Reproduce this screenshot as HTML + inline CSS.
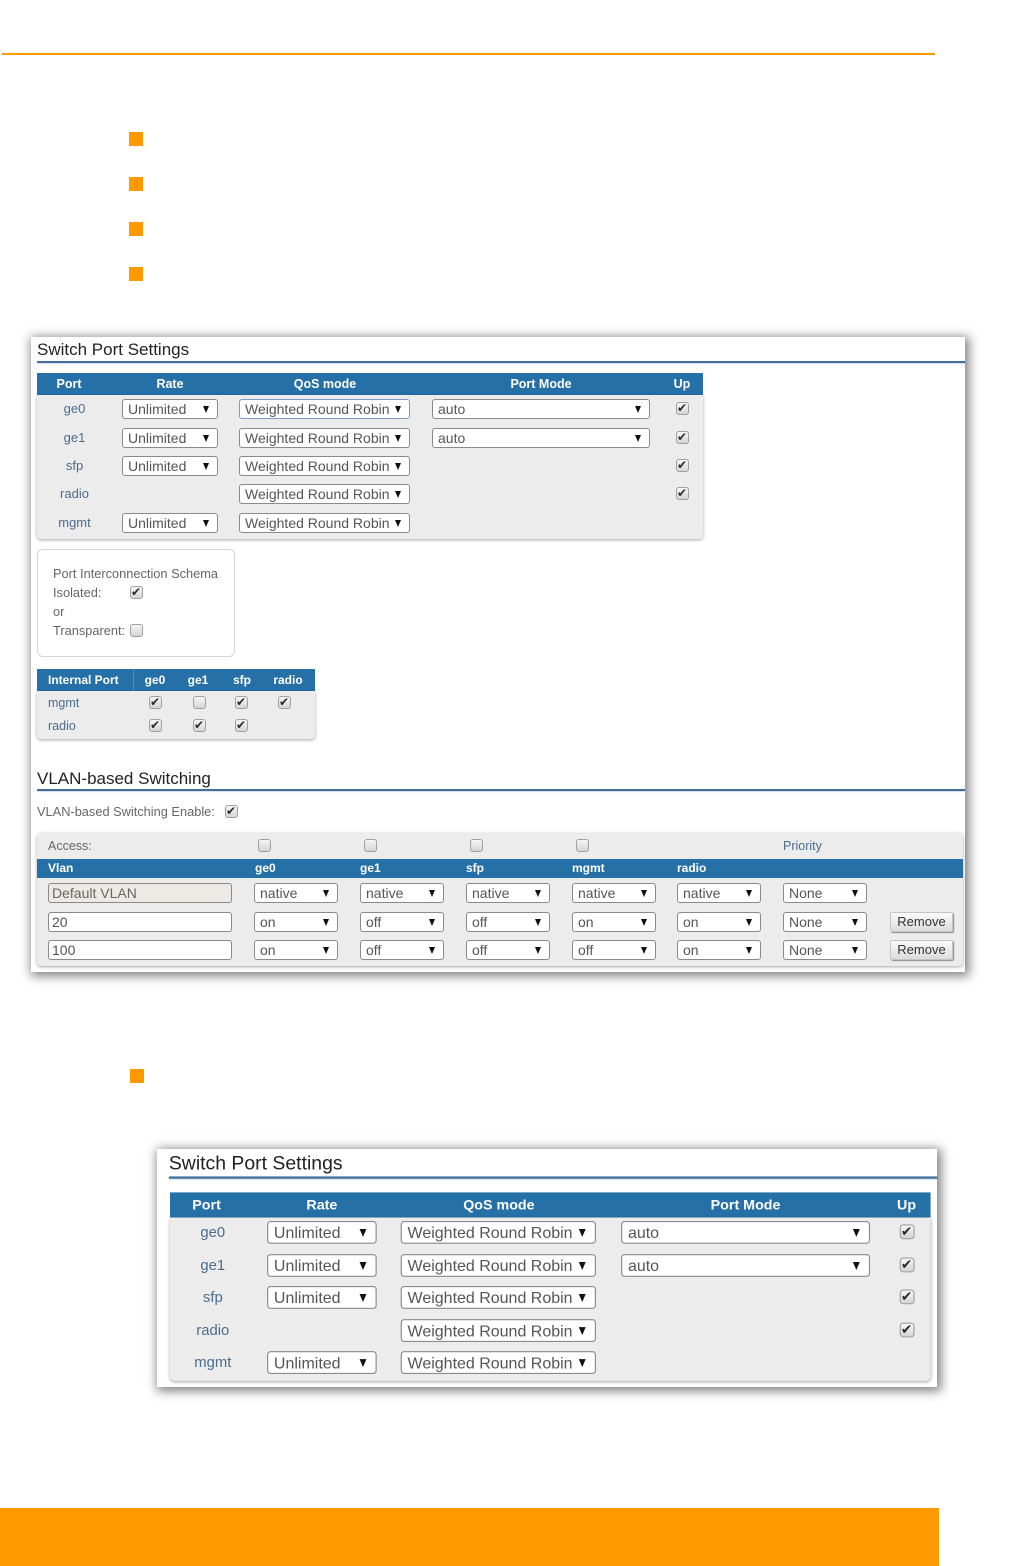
<!DOCTYPE html>
<html><head><meta charset="utf-8">
<style>
html,body{margin:0;padding:0;background:#fff;}
body{width:1030px;height:1566px;position:relative;overflow:hidden;font-family:"Liberation Sans",Arial,sans-serif;}
div,span,i{box-sizing:border-box;}
.a{position:absolute;}
.bul{position:absolute;width:14px;height:14px;background:#ff9900;}
.panel{position:absolute;background:#fff;box-shadow:2px 2px 10px 2px rgba(0,0,0,0.5);}
.ttl{position:absolute;font-size:17px;line-height:21px;color:#222;white-space:nowrap;}
.bl{position:absolute;height:2px;background:#41709c;box-shadow:0 1px 1px rgba(120,150,180,0.35);}
.hd{position:absolute;background:#2670a8;}
.bd{position:absolute;background:#ececec;border-radius:0 0 4px 4px;box-shadow:0 1px 3px rgba(0,0,0,0.35);}
.hl{position:absolute;color:#fff;font-weight:bold;font-size:12.5px;line-height:22px;text-align:center;white-space:nowrap;}
.lb{position:absolute;color:#4b6d8f;font-size:13px;line-height:20px;text-align:center;white-space:nowrap;}
.sel{position:absolute;height:20px;border:1px solid #8a8a8a;border-radius:3px;background:#fff;font-size:14px;color:#555;padding-left:5px;line-height:18px;white-space:nowrap;overflow:hidden;}
.sel i{position:absolute;right:8px;top:6px;width:0;height:0;border-left:3px solid transparent;border-right:3px solid transparent;border-top:7px solid #111;}
.inp{position:absolute;height:20px;border:1px solid #8a8a8a;border-radius:3px;background:#fff;font-size:14px;color:#555;padding-left:3px;line-height:18px;white-space:nowrap;}
.cb{position:absolute;width:13px;height:13px;margin-top:-1px;border:1px solid #a0a0a0;border-radius:3px;background:linear-gradient(#f6f6f6,#d4d4d4);}
.cb.on::after{content:"\2714";position:absolute;left:0px;top:-2px;font-size:12px;line-height:15px;color:#2a2a2a;font-family:"DejaVu Sans",sans-serif;}
.tx{position:absolute;font-size:12.8px;color:#666;white-space:nowrap;line-height:16px;}
.btn{position:absolute;width:63px;height:20px;border:1px solid #c4c4c4;border-radius:2px;background:linear-gradient(#fbfbfb,#dcdcdc);box-shadow:1px 1px 1px #8a8a8a;font-size:13px;color:#333;text-align:center;line-height:18px;}
.vh{position:absolute;color:#fff;font-weight:bold;font-size:12px;line-height:19px;white-space:nowrap;}
</style></head>
<body>

<!-- top orange line -->
<div class="a" style="left:2px;top:53px;width:933px;height:2px;background:#ff9900;"></div>

<!-- bullets -->
<div class="bul" style="left:129px;top:132px;"></div>
<div class="bul" style="left:129px;top:177px;"></div>
<div class="bul" style="left:129px;top:222px;"></div>
<div class="bul" style="left:129px;top:267px;"></div>
<div class="bul" style="left:130px;top:1069px;"></div>

<!-- ================= PANEL 1 ================= -->
<div class="panel" style="left:31px;top:337px;width:934px;height:635px;"></div>
<div class="ttl" style="left:37px;top:339px;">Switch Port Settings</div>
<div class="bl" style="left:37px;top:361px;width:928px;"></div>

<div class="a" style="left:37px;top:373px;width:666px;height:166px;">
  <div class="hd" style="left:0;top:0;width:666px;height:22px;"></div>
  <div class="bd" style="left:0;top:22px;width:666px;height:144px;"></div>
  <div class="hl" style="left:-18px;top:0;width:100px;">Port</div>
  <div class="hl" style="left:83px;top:0;width:100px;">Rate</div>
  <div class="hl" style="left:238px;top:0;width:100px;">QoS mode</div>
  <div class="hl" style="left:454px;top:0;width:100px;">Port Mode</div>
  <div class="hl" style="left:625px;top:0;width:40px;">Up</div>

  <div class="lb" style="left:0;top:26px;width:75px;">ge0</div>
  <div class="sel" style="left:85px;top:26px;width:96px;">Unlimited<i></i></div>
  <div class="sel" style="left:202px;top:26px;width:171px;border-color:#7d9bc4;">Weighted Round Robin<i></i></div>
  <div class="sel" style="left:395px;top:26px;width:218px;">auto<i></i></div>
  <div class="cb on" style="left:639px;top:30px;"></div>

  <div class="lb" style="left:0;top:55px;width:75px;">ge1</div>
  <div class="sel" style="left:85px;top:55px;width:96px;">Unlimited<i></i></div>
  <div class="sel" style="left:202px;top:55px;width:171px;">Weighted Round Robin<i></i></div>
  <div class="sel" style="left:395px;top:55px;width:218px;">auto<i></i></div>
  <div class="cb on" style="left:639px;top:59px;"></div>

  <div class="lb" style="left:0;top:83px;width:75px;">sfp</div>
  <div class="sel" style="left:85px;top:83px;width:96px;">Unlimited<i></i></div>
  <div class="sel" style="left:202px;top:83px;width:171px;">Weighted Round Robin<i></i></div>
  <div class="cb on" style="left:639px;top:87px;"></div>

  <div class="lb" style="left:0;top:111px;width:75px;">radio</div>
  <div class="sel" style="left:202px;top:111px;width:171px;">Weighted Round Robin<i></i></div>
  <div class="cb on" style="left:639px;top:115px;"></div>

  <div class="lb" style="left:0;top:140px;width:75px;">mgmt</div>
  <div class="sel" style="left:85px;top:140px;width:96px;">Unlimited<i></i></div>
  <div class="sel" style="left:202px;top:140px;width:171px;">Weighted Round Robin<i></i></div>
</div>

<!-- Port interconnection box -->
<div class="a" style="left:37px;top:549px;width:198px;height:108px;border:1px solid #d6d6d6;border-radius:6px;background:#fff;"></div>
<div class="tx" style="left:53px;top:566px;">Port Interconnection Schema</div>
<div class="tx" style="left:53px;top:585px;">Isolated:</div>
<div class="cb on" style="left:130px;top:587px;"></div>
<div class="tx" style="left:53px;top:604px;">or</div>
<div class="tx" style="left:53px;top:623px;">Transparent:</div>
<div class="cb" style="left:130px;top:625px;"></div>

<!-- Internal port table -->
<div class="a" style="left:37px;top:669px;width:278px;height:70px;">
  <div class="hd" style="left:0;top:0;width:278px;height:22px;"></div>
  <div class="a" style="left:96px;top:0;width:1px;height:22px;background:#4f8cc0;"></div>
  <div class="bd" style="left:0;top:22px;width:278px;height:48px;"></div>
  <div class="hl" style="left:11px;top:0;font-size:12px;">Internal Port</div>
  <div class="hl" style="left:98px;top:0;width:40px;font-size:12px;">ge0</div>
  <div class="hl" style="left:141px;top:0;width:40px;font-size:12px;">ge1</div>
  <div class="hl" style="left:185px;top:0;width:40px;font-size:12px;">sfp</div>
  <div class="hl" style="left:231px;top:0;width:40px;font-size:12px;">radio</div>
  <div class="lb" style="left:11px;top:24px;font-size:12.5px;text-align:left;">mgmt</div>
  <div class="lb" style="left:11px;top:47px;font-size:12.5px;text-align:left;">radio</div>
  <div class="cb on" style="left:112px;top:28px;"></div>
  <div class="cb" style="left:156px;top:28px;"></div>
  <div class="cb on" style="left:198px;top:28px;"></div>
  <div class="cb on" style="left:241px;top:28px;"></div>
  <div class="cb on" style="left:112px;top:51px;"></div>
  <div class="cb on" style="left:156px;top:51px;"></div>
  <div class="cb on" style="left:198px;top:51px;"></div>
</div>

<!-- VLAN based switching -->
<div class="ttl" style="left:37px;top:768px;">VLAN-based Switching</div>
<div class="bl" style="left:37px;top:789px;width:928px;"></div>
<div class="tx" style="left:37px;top:804px;">VLAN-based Switching Enable:</div>
<div class="cb on" style="left:225px;top:806px;"></div>

<div class="a" style="left:37px;top:833px;width:926px;height:133px;background:#ececec;border-radius:4px;box-shadow:0 1px 3px rgba(0,0,0,0.35);"></div>
<div class="tx" style="left:48px;top:838px;font-size:12.5px;">Access:</div>
<div class="cb" style="left:258px;top:840px;"></div>
<div class="cb" style="left:364px;top:840px;"></div>
<div class="cb" style="left:470px;top:840px;"></div>
<div class="cb" style="left:576px;top:840px;"></div>
<div class="tx" style="left:783px;top:838px;font-size:12.5px;color:#4b6d8f;">Priority</div>

<div class="hd" style="left:37px;top:859px;width:926px;height:19px;"></div>
<div class="vh" style="left:48px;top:859px;">Vlan</div>
<div class="vh" style="left:255px;top:859px;">ge0</div>
<div class="vh" style="left:360px;top:859px;">ge1</div>
<div class="vh" style="left:466px;top:859px;">sfp</div>
<div class="vh" style="left:572px;top:859px;">mgmt</div>
<div class="vh" style="left:677px;top:859px;">radio</div>

<!-- row 1 -->
<div class="inp" style="left:48px;top:883px;width:184px;background:#ebeae4;color:#666;">Default VLAN</div>
<div class="sel" style="left:254px;top:883px;width:84px;">native<i></i></div>
<div class="sel" style="left:360px;top:883px;width:84px;">native<i></i></div>
<div class="sel" style="left:466px;top:883px;width:84px;">native<i></i></div>
<div class="sel" style="left:572px;top:883px;width:84px;">native<i></i></div>
<div class="sel" style="left:677px;top:883px;width:84px;">native<i></i></div>
<div class="sel" style="left:783px;top:883px;width:84px;">None<i></i></div>
<!-- row 2 -->
<div class="inp" style="left:48px;top:912px;width:184px;">20</div>
<div class="sel" style="left:254px;top:912px;width:84px;">on<i></i></div>
<div class="sel" style="left:360px;top:912px;width:84px;">off<i></i></div>
<div class="sel" style="left:466px;top:912px;width:84px;">off<i></i></div>
<div class="sel" style="left:572px;top:912px;width:84px;">on<i></i></div>
<div class="sel" style="left:677px;top:912px;width:84px;">on<i></i></div>
<div class="sel" style="left:783px;top:912px;width:84px;">None<i></i></div>
<div class="btn" style="left:890px;top:912px;">Remove</div>
<!-- row 3 -->
<div class="inp" style="left:48px;top:940px;width:184px;">100</div>
<div class="sel" style="left:254px;top:940px;width:84px;">on<i></i></div>
<div class="sel" style="left:360px;top:940px;width:84px;">off<i></i></div>
<div class="sel" style="left:466px;top:940px;width:84px;">off<i></i></div>
<div class="sel" style="left:572px;top:940px;width:84px;">off<i></i></div>
<div class="sel" style="left:677px;top:940px;width:84px;">on<i></i></div>
<div class="sel" style="left:783px;top:940px;width:84px;">None<i></i></div>
<div class="btn" style="left:890px;top:940px;">Remove</div>

<!-- ================= PANEL 2 ================= -->
<div class="panel" style="left:157px;top:1149px;width:780px;height:238px;"></div>
<div class="a" style="left:170px;top:1149px;width:672px;height:205px;transform:scale(1.142);transform-origin:0 0;">
  <div class="ttl" style="left:-1px;top:2px;">Switch Port Settings</div>
  <div class="bl" style="left:-1px;top:24px;width:673px;"></div>
  <div class="a" style="left:0;top:38px;width:666px;height:166px;">
    <div class="hd" style="left:0;top:0;width:666px;height:22px;"></div>
    <div class="bd" style="left:0;top:22px;width:666px;height:143px;"></div>
    <div class="hl" style="left:-18px;top:0;width:100px;">Port</div>
    <div class="hl" style="left:83px;top:0;width:100px;">Rate</div>
    <div class="hl" style="left:238px;top:0;width:100px;">QoS mode</div>
    <div class="hl" style="left:454px;top:0;width:100px;">Port Mode</div>
    <div class="hl" style="left:625px;top:0;width:40px;">Up</div>

    <div class="lb" style="left:0;top:25px;width:75px;">ge0</div>
    <div class="sel" style="left:85px;top:25px;width:96px;">Unlimited<i></i></div>
    <div class="sel" style="left:202px;top:25px;width:171px;">Weighted Round Robin<i></i></div>
    <div class="sel" style="left:395px;top:25px;width:218px;">auto<i></i></div>
    <div class="cb on" style="left:639px;top:29px;"></div>

    <div class="lb" style="left:0;top:54px;width:75px;">ge1</div>
    <div class="sel" style="left:85px;top:54px;width:96px;">Unlimited<i></i></div>
    <div class="sel" style="left:202px;top:54px;width:171px;">Weighted Round Robin<i></i></div>
    <div class="sel" style="left:395px;top:54px;width:218px;">auto<i></i></div>
    <div class="cb on" style="left:639px;top:58px;"></div>

    <div class="lb" style="left:0;top:82px;width:75px;">sfp</div>
    <div class="sel" style="left:85px;top:82px;width:96px;">Unlimited<i></i></div>
    <div class="sel" style="left:202px;top:82px;width:171px;">Weighted Round Robin<i></i></div>
    <div class="cb on" style="left:639px;top:86px;"></div>

    <div class="lb" style="left:0;top:111px;width:75px;">radio</div>
    <div class="sel" style="left:202px;top:111px;width:171px;">Weighted Round Robin<i></i></div>
    <div class="cb on" style="left:639px;top:115px;"></div>

    <div class="lb" style="left:0;top:139px;width:75px;">mgmt</div>
    <div class="sel" style="left:85px;top:139px;width:96px;">Unlimited<i></i></div>
    <div class="sel" style="left:202px;top:139px;width:171px;">Weighted Round Robin<i></i></div>
  </div>
</div>

<!-- bottom orange bar -->
<div class="a" style="left:0;top:1508px;width:939px;height:58px;background:#ff9900;"></div>

</body></html>
